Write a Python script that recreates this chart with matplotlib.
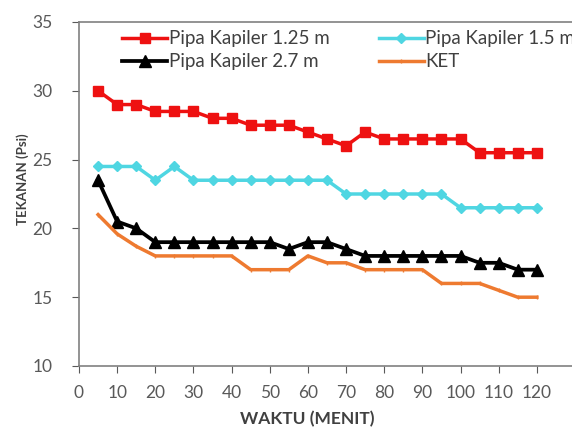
import matplotlib
matplotlib.use("Agg")
import matplotlib.pyplot as plt

time_min = [5, 10, 15, 20, 25, 30, 35, 40, 45, 50, 55, 60, 65, 70, 75, 80, 85, 90, 95, 100, 105, 110, 115, 120]
pipa_125 = [30, 29, 29, 28.5, 28.5, 28.5, 28, 28, 27.5, 27.5, 27.5, 27, 26.5, 26, 27, 26.5, 26.5, 26.5, 26.5, 26.5, 25.5, 25.5, 25.5, 25.5]
pipa_15 = [24.5, 24.5, 24.5, 23.5, 24.5, 23.5, 23.5, 23.5, 23.5, 23.5, 23.5, 23.5, 23.5, 22.5, 22.5, 22.5, 22.5, 22.5, 22.5, 21.5, 21.5, 21.5, 21.5, 21.5]
pipa_27 = [23.5, 20.5, 20, 19, 19, 19, 19, 19, 19, 19, 18.5, 19, 19, 18.5, 18, 18, 18, 18, 18, 18, 17.5, 17.5, 17, 17]
ket = [21, 19.6, 18.7, 18, 18, 18, 18, 18, 17, 17, 17, 18, 17.5, 17.5, 17, 17, 17, 17, 16, 16, 16, 15.5, 15, 15]

x_ticks = [0, 10, 20, 30, 40, 50, 60, 70, 80, 90, 100, 110, 120]
y_ticks = [10, 15, 20, 25, 30, 35]

plt.rcParams['font.family'] = ['Lato', 'DejaVu Sans']
plt.rcParams['xtick.major.pad'] = 9
plt.rcParams['ytick.major.pad'] = 14
plt.rcParams['xtick.major.size'] = 5
plt.rcParams['ytick.major.size'] = 5

fig = plt.figure(figsize=(5.72, 4.30), dpi=100)
ax = fig.add_axes([79/572, 1-366/430, (575-79)/572, (366-22)/430])

l1, = ax.plot(time_min, pipa_125, color='#EE1111', lw=2.5, marker='s', ms=7, label='Pipa Kapiler 1.25 m')
l2, = ax.plot(time_min, pipa_15, color='#4FD6E2', lw=2.5, marker='D', ms=5, label='Pipa Kapiler 1.5 m')
l3, = ax.plot(time_min, pipa_27, color='#000000', lw=2.7, marker='^', ms=9, label='Pipa Kapiler 2.7 m')
l4, = ax.plot(time_min, ket, color='#EE7A30', lw=2.5, marker='|', ms=3, label='KET')

ax.set_xlim(0, 130)
ax.set_ylim(10, 35)
ax.set_xticks(x_ticks)
ax.set_yticks(y_ticks)
ax.tick_params(axis='both', labelsize=12.5, colors='#595959', direction='out')
for s in ['left', 'bottom', 'top']:
    ax.spines[s].set_color('#808080')
    ax.spines[s].set_linewidth(1.2)
ax.spines['right'].set_visible(False)

ax.set_xlabel('WAKTU (MENIT)', fontsize=12.5, fontweight='bold', color='#404040')
ax.set_ylabel('TEKANAN (Psi)', fontsize=9.5, fontweight='bold', color='#404040')
ax.xaxis.set_label_coords((307-79)/496, -(411-366)/344)
ax.yaxis.set_label_coords(-(79-29)/496, (366-179)/344)

leg = ax.legend([l1, l3, l2, l4], [l1.get_label(), l3.get_label(), l2.get_label(), l4.get_label()],
                ncol=2, loc='upper left', bbox_to_anchor=(0.07, 1.0), frameon=False,
                fontsize=13.5, handlelength=2.4, columnspacing=2.6, labelspacing=0.3,
                handletextpad=0.1, borderaxespad=0.05)
for t in leg.get_texts():
    t.set_color('#404040')

fig.savefig('out.png', dpi=100)
